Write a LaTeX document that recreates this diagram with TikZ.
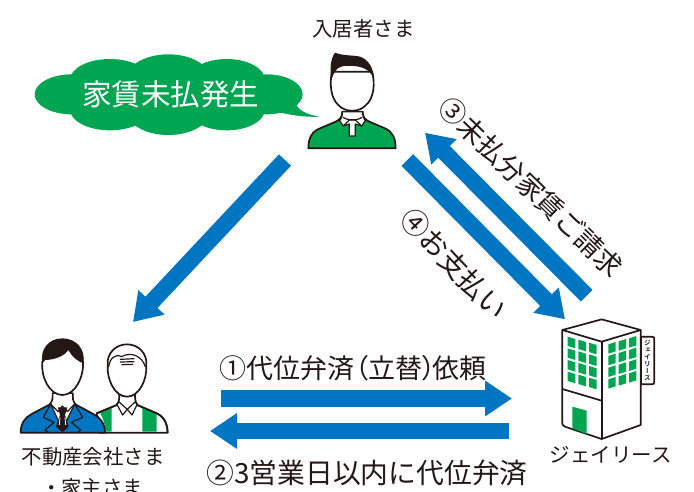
\documentclass[tikz,border=0pt]{standalone}
\usepackage{fontspec}
\setmainfont{Noto Sans CJK JP}
\newfontfamily\paltfont[RawFeature=+palt]{Noto Sans CJK JP}
\newfontfamily\vertfont[RawFeature=+vert]{Noto Sans CJK JP Bold}
\usetikzlibrary{arrows.meta}
\definecolor{grn}{HTML}{00A551}
\definecolor{blu}{HTML}{0075C2}
\definecolor{ink}{HTML}{231815}
\tikzset{
  flowarrow/.style={draw=blu,line width=16.5pt,-{Triangle[length=27pt,width=34pt]}},
  iconline/.style={draw=ink,line width=1.7pt,line join=round},
  thinline/.style={draw=ink,line width=1.2pt,line join=round,line cap=round},
  zoomed/.style={x=0.33333pt,y=-0.33333pt},
  labeltext/.style={inner sep=0,text=ink,font=\fontsize{20.4}{24}\selectfont},
  flowtext/.style={inner sep=0,text=ink,font=\fontsize{27}{32}\selectfont},
  win/.style={fill=grn,draw=none}
}
\begin{document}
\begin{tikzpicture}[x=1pt,y=-1pt]
\useasboundingbox (0,0) rectangle (694,491);
\clip (0,0) rectangle (694,491);
\fill[white] (0,0) rectangle (694,491);

% speech bubble
\begin{scope}[zoomed]
  \fill[grn] (215,283) ellipse [x radius=111,y radius=60];
  \fill[grn] (800,283) ellipse [x radius=108,y radius=60];
  \fill[grn] (330,240) ellipse [x radius=120,y radius=63];
  \fill[grn] (505,235) ellipse [x radius=125,y radius=72];
  \fill[grn] (680,240) ellipse [x radius=115,y radius=63];
  \fill[grn] (330,328) ellipse [x radius=120,y radius=63];
  \fill[grn] (505,333) ellipse [x radius=125,y radius=72];
  \fill[grn] (680,328) ellipse [x radius=115,y radius=63];
  \fill[grn] (885,310) .. controls (900,335) and (925,345) .. (960,350) .. controls (910,352) and (870,345) .. (830,335) -- cycle;
\end{scope}
\node[inner sep=0,text=white,font=\fontsize{29.5}{34}\selectfont] (bubble) at (170.5,94) {家賃未払発生};

% tenant
\begin{scope}[zoomed]
  \draw[iconline,fill=grn] (925,445) .. controls (925,415) and (935,395) .. (960,385) -- (1000,368) .. controls (1020,360) and (1027,352) .. (1027,335) -- (1088,335) .. controls (1088,352) and (1095,360) .. (1115,368) -- (1155,385) .. controls (1178,395) and (1187,415) .. (1187,445) -- cycle;
  \draw[thinline,fill=white] (1027,335) .. controls (1027,350) and (1025,355) .. (1019,362) -- (1030,378) -- (1048,372) -- (1048,408) -- (1066,408) -- (1066,372) -- (1085,378) -- (1096,362) .. controls (1090,355) and (1088,350) .. (1088,335) -- cycle;
  \draw[thinline] (1030,352) .. controls (1040,362) and (1075,362) .. (1085,352);
  \draw[thinline] (1030,378) -- (1048,360) -- (1066,360) -- (1085,378);
  \draw[iconline,fill=white] (996,215) .. controls (988,250) and (992,295) .. (1015,315) .. controls (1035,338) and (1078,338) .. (1098,315) .. controls (1122,295) and (1126,250) .. (1116,215) -- cycle;
  \fill[ink] (1005,158) .. controls (1030,168) and (1060,165) .. (1080,170) .. controls (1105,178) and (1122,205) .. (1122,240) .. controls (1115,215) and (1095,200) .. (1060,198) .. controls (1035,196) and (1012,198) .. (1005,215) .. controls (998,225) and (996,235) .. (995,240) .. controls (988,210) and (992,175) .. (1005,158) -- cycle;
\end{scope}
\node[labeltext] (tenant) at (363.5,29) {入居者さま};

% owners
\begin{scope}[zoomed,shift={(0pt,-330pt)}]
  % rear man
  \draw[iconline,fill=white] (290,250) -- (348,226) .. controls (358,218) and (358,205) .. (358,190) -- (405,190) .. controls (405,205) and (405,218) .. (414,226) -- (470,250) .. controls (495,262) and (503,285) .. (503,308) -- (300,308) -- cycle;
  \fill[grn] (300,248) -- (335,233) -- (335,305) -- (317,305) .. controls (315,280) and (308,262) .. (300,248) -- cycle;
  \fill[grn] (427,233) -- (470,251) -- (470,305) -- (427,305) -- cycle;
  \draw[iconline] (290,250) -- (348,226);
  \draw[iconline] (414,226) -- (470,250) .. controls (495,262) and (503,285) .. (503,308);
  \draw[thinline] (350,222) -- (368,255) -- (382,238) -- (396,255) -- (412,222);
  \draw[thinline] (356,215) -- (382,238) -- (406,215);
  \draw[iconline,fill=white] (323,105) .. controls (320,150) and (345,200) .. (381,200) .. controls (417,200) and (442,150) .. (439,105) .. controls (442,70) and (415,43) .. (381,43) .. controls (347,43) and (320,70) .. (323,105) -- cycle;
  \draw[thinline] (326,110) .. controls (330,85) and (345,70) .. (365,80);
  \draw[thinline] (365,80) .. controls (390,65) and (425,75) .. (436,110);
  \draw[thinline] (361,88) -- (402,86);
  \draw[thinline] (361,96) -- (402,95);
  \draw[thinline] (366,104) -- (398,103);
  % front man
  \draw[iconline,fill=blu] (62,308) .. controls (62,280) and (75,262) .. (95,252) -- (148,224) .. controls (158,216) and (158,205) .. (158,190) -- (218,190) .. controls (218,205) and (218,216) .. (228,224) -- (280,252) .. controls (300,262) and (315,280) .. (315,308) -- cycle;
  \draw[thinline,fill=white] (158,190) -- (158,208) -- (152,222) -- (187,298) -- (224,222) -- (218,208) -- (218,190) -- cycle;
  \fill[ink] (174,232) -- (202,232) -- (195,255) -- (206,290) -- (187,307) -- (168,290) -- (180,255) -- cycle;
  \draw[white,line width=0.8pt] (180,262) -- (178,285);
  \draw[white,line width=0.8pt] (195,262) -- (197,285);
  \draw[thinline] (152,222) -- (174,245) -- (187,228) -- (202,245) -- (224,222);
  \draw[thinline] (152,222) -- (130,262) -- (162,277) -- (135,300) -- (145,308);
  \draw[thinline] (224,222) -- (248,262) -- (214,277) -- (242,300) -- (232,308);
  \draw[iconline,fill=white] (127,95) .. controls (122,140) and (148,195) .. (187,195) .. controls (226,195) and (252,140) .. (249,95) -- (187,40) -- cycle;
  \fill[ink] (128,100) .. controls (118,60) and (145,25) .. (187,25) .. controls (230,25) and (258,60) .. (250,100) .. controls (235,95) and (215,80) .. (205,60) .. controls (192,80) and (160,90) .. (133,90) -- cycle;
\end{scope}
\node[labeltext] (agency) at (93,457) {不動産会社さま};
\node[labeltext] (owner) at (92,488) {・家主さま};

% building
\begin{scope}[zoomed,shift={(530pt,-310pt)}]
  \draw[iconline,fill=white] (333,80) -- (366,80) .. controls (371,80) and (373,83) .. (373,87) -- (373,216) .. controls (373,221) and (370,223) .. (366,223) -- (333,223) -- cycle;
  \node[inner sep=0,text=ink,align=center,font=\vertfont\fontsize{6.6}{7}\selectfont] (sign) at (352,151) {ジ\\ェ\\イ\\リ\\ー\\ス};
  \draw[iconline,fill=white] (97,60) -- (215,28) -- (332,60) -- (332,345) -- (215,387) -- (105,350) .. controls (99,347) and (97,345) .. (97,340) -- cycle;
  \draw[iconline] (97,60) -- (215,95) -- (332,60);
  \draw[iconline] (215,95) -- (215,387);
  \draw[iconline] (97,237) -- (215,272);
  \fill[grn] (127,290) -- (170,302) -- (170,372) -- (127,355) -- cycle;
  \foreach \c/\cx in {0/113,1/145,2/177}
    \foreach \r in {0,1,2,3}
      \fill[grn] (\cx,{80+\r*35+\c*9}) -- ++(23,7) -- ++(0,28) -- ++(-23,-7) -- cycle;
  \foreach \c/\cx in {0/235,1/266,2/297}
    \foreach \r in {0,1,2,3}
      \fill[grn] (\cx,{103+\r*35-\c*9}) -- ++(22,-7) -- ++(0,28) -- ++(-22,7) -- cycle;
\end{scope}
\node[labeltext,font=\fontsize{20.5}{24}\selectfont] (jlease) at (610.5,455) {ジェイリース};

% connector ends
\coordinate (tenantOut) at (285,160);
\coordinate (ownerIn) at (133,322);
\coordinate (jleaseOut) at (586.7,295.7);
\coordinate (tenantIn) at (425,132.7);
\coordinate (tenantPay) at (407.3,160);
\coordinate (jleaseIn) at (565,319.3);
\coordinate (ownerOut) at (221,398.5);
\coordinate (jleaseReq) at (512,398.5);
\coordinate (jleaseBack) at (509,431);
\coordinate (ownerBack) at (210,431);

\draw[flowarrow] (tenantOut) -- (ownerIn);
\draw[flowarrow] (jleaseOut) -- (tenantIn);
\draw[flowarrow] (tenantPay) -- (jleaseIn);
\draw[flowarrow] (ownerOut) -- (jleaseReq);
\draw[flowarrow] (jleaseBack) -- (ownerBack);

% flow labels
\node[flowtext] (step1) at (353,368) {①代位弁済{\paltfont（}立替{\paltfont）}\kern-3pt依頼};
\node[flowtext,font=\fontsize{27.8}{32}\selectfont] (step2) at (367,473) {②3営業日以内に代位弁済};
\node[flowtext,rotate=-44] (step3) at (531,187) {③未払分家賃ご請求};
\node[flowtext,font=\fontsize{28}{32}\selectfont,rotate=-46.5] (step4) at (454,264) {④お支払い};
\end{tikzpicture}
\end{document}
